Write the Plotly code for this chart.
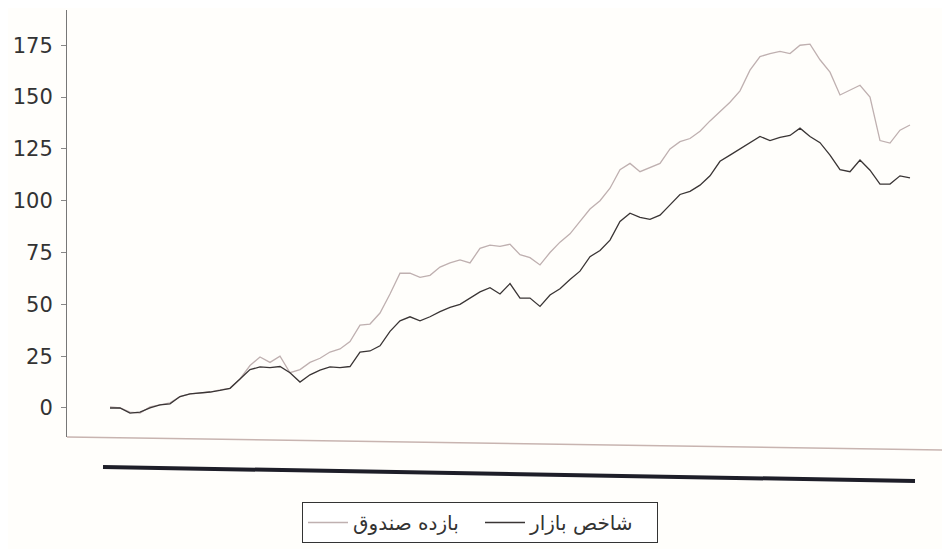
import plotly.graph_objects as go

# period index (no labels shown on the x axis)
periods = list(range(81))

# بازده صندوق (fund return, light line)
fund_return = [
    0.5, 0, -2, -2.5, 0.5, 1.5, 2.5, 5.5, 6.8, 7.2,
    7.7, 8.7, 9.5, 14, 20.5, 24.6, 22, 25, 17, 18.5,
    22, 24, 27, 28.5, 32, 40, 40.5, 45.8, 55, 65,
    65, 63, 64, 68, 70, 71.4, 70, 77, 78.6, 78,
    79, 74, 72.5, 69, 75, 80, 84, 90, 96, 100,
    106, 115, 118, 114, 116, 118, 125, 128.5, 130, 133.5,
    138.5, 143, 147.5, 153, 163, 169.5, 171, 172, 171, 175,
    175.5, 168, 162, 151, 153.5, 155.7, 150, 129, 127.8, 134,
    136.5,
]

# شاخص بازار (market index, dark line)
market_index = [
    0, 0, -2.5, -2, 0, 1.5, 2, 5.5, 6.8, 7.2,
    7.7, 8.5, 9.5, 14, 18.5, 19.8, 19.5, 20, 17, 12.5,
    16, 18.3, 19.8, 19.5, 20, 27, 27.5, 30, 37, 42,
    44, 42, 44, 46.5, 48.5, 50, 53, 56, 58, 55,
    60, 53, 53, 49, 54.5, 57.5, 62, 66, 73, 76,
    81, 90, 94, 92, 91, 93, 98, 103, 104.5, 107.5,
    112, 119, 122, 125, 128, 131, 129, 130.5, 131.5, 135,
    131, 128, 122, 115, 114, 119.6, 114.7, 108, 108, 112,
    111,
]

y_ticks = [0, 25, 50, 75, 100, 125, 150, 175]
series_names = ["بازده صندوق", "شاخص بازار"]

# page offset of the plot div (default body margin)
OFF = 8
PL, PT, PR, PB = 67 - OFF, 10 - OFF, 920 - OFF, 437 - OFF
W, H = 950 - OFF, 549 - OFF
PW, PH = PR - PL, PB - PT


def px(x):
    return (x - OFF - PL) / PW


def py(y):
    return (PB - (y - OFF)) / PH


fig = go.Figure()
fig.add_trace(go.Scatter(
    x=periods, y=fund_return, mode="lines", name=series_names[0],
    line=dict(color="#bfb0b0", width=1.3),
))
fig.add_trace(go.Scatter(
    x=periods, y=market_index, mode="lines", name=series_names[1],
    line=dict(color="#3a3535", width=1.3),
))

# scan artefacts: slightly skewed x-axis line and thick dark rule below
fig.add_shape(type="line", xref="paper", yref="paper",
              x0=px(67), y0=py(437), x1=px(942), y1=py(450),
              line=dict(color="#c8b4b0", width=1.5))
fig.add_shape(type="line", xref="paper", yref="paper",
              x0=px(103), y0=py(467), x1=px(915), y1=py(481),
              line=dict(color="#1e1e28", width=4))

fig.update_layout(
    width=W, height=H,
    margin=dict(l=PL, r=W - PR, t=PT, b=H - PB, autoexpand=False),
    paper_bgcolor="#fffefb", plot_bgcolor="#fffefb",
    font=dict(family="DejaVu Sans", color="#333333"),
    showlegend=True,
    legend=dict(
        orientation="h", x=px(480), xanchor="center",
        y=py(502), yanchor="top",
        bordercolor="#333333", borderwidth=1, bgcolor="#ffffff",
        font=dict(size=20, family="DejaVu Sans", color="#333333"),
        itemwidth=40, entrywidth=122, entrywidthmode="pixels",
    ),
    xaxis=dict(
        range=[-4.3, 81], showgrid=False, zeroline=False, showline=False,
        showticklabels=False, ticks="", automargin=False,
    ),
    yaxis=dict(
        range=[-14, 192], tickvals=y_ticks, showgrid=False, zeroline=False,
        showline=True, linecolor="#777777", linewidth=1,
        ticks="outside", ticklen=5, tickcolor="#888888",
        tickfont=dict(size=21, family="DejaVu Sans", color="#333333"),
        ticklabelstandoff=4, automargin=False,
    ),
)

fig.write_html("out.html")
